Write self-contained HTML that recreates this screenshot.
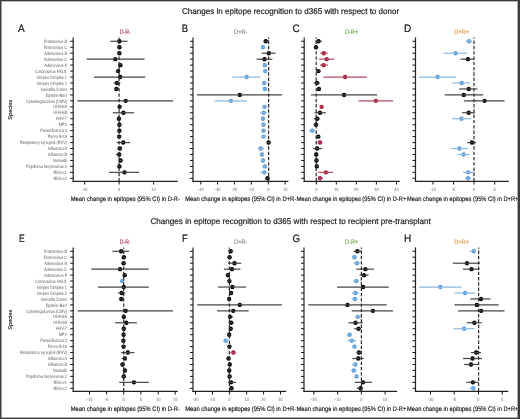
<!DOCTYPE html>
<html><head><meta charset="utf-8"><title>Figure</title>
<style>html,body{margin:0;padding:0;background:#fff;}body{width:520px;height:419px;overflow:hidden;font-family:"Liberation Sans",sans-serif;}svg{display:block;will-change:transform;text-rendering:geometricPrecision;}</style>
</head><body>
<svg width="520" height="419" viewBox="0 0 520 419" font-family="&quot;Liberation Sans&quot;, sans-serif">
<rect x="0" y="0" width="520" height="419" fill="#fff"/>
<text x="182" y="14.2" font-size="8.3" fill="#1a1a1a" stroke="#1a1a1a" stroke-width="0.18" textLength="217.2" lengthAdjust="spacingAndGlyphs">Changes in epitope recognition to d365 with respect to donor</text>
<text x="150.5" y="224.2" font-size="8.3" fill="#1a1a1a" stroke="#1a1a1a" stroke-width="0.18" textLength="280.3" lengthAdjust="spacingAndGlyphs">Changes in epitope recognition to d365 with respect to recipient pre-transplant</text>
<text x="0" y="0" font-size="5.5" fill="#111" stroke="#111" stroke-width="0.12" text-anchor="middle" transform="translate(11.9,109.7) rotate(-90)" textLength="20" lengthAdjust="spacingAndGlyphs">Species</text>
<g transform="translate(67,0) scale(0.82,1)">
<text x="0" y="42.95" font-size="4.7" fill="#5a5a5a" text-anchor="end">Enterovirus B</text>
<text x="0" y="48.91" font-size="4.7" fill="#5a5a5a" text-anchor="end">Enterovirus C</text>
<text x="0" y="54.86" font-size="4.7" fill="#5a5a5a" text-anchor="end">Adenovirus B</text>
<text x="0" y="60.82" font-size="4.7" fill="#5a5a5a" text-anchor="end">Adenovirus C</text>
<text x="0" y="66.78" font-size="4.7" fill="#5a5a5a" text-anchor="end">Adenovirus F</text>
<text x="0" y="72.73" font-size="4.7" fill="#5a5a5a" text-anchor="end">Coronavirus HKU1</text>
<text x="0" y="78.69" font-size="4.7" fill="#5a5a5a" text-anchor="end">Herpes Simplex 1</text>
<text x="0" y="84.65" font-size="4.7" fill="#5a5a5a" text-anchor="end">Herpes Simplex 2</text>
<text x="0" y="90.61" font-size="4.7" fill="#5a5a5a" text-anchor="end">Varicella Zoster</text>
<text x="0" y="96.56" font-size="4.7" fill="#5a5a5a" text-anchor="end">Epstein-Barr</text>
<text x="0" y="102.52" font-size="4.7" fill="#5a5a5a" text-anchor="end">Cytomegalovirus (CMV)</text>
<text x="0" y="108.48" font-size="4.7" fill="#5a5a5a" text-anchor="end">HHV-6A</text>
<text x="0" y="114.43" font-size="4.7" fill="#5a5a5a" text-anchor="end">HHV-6B</text>
<text x="0" y="120.39" font-size="4.7" fill="#5a5a5a" text-anchor="end">HHV-7</text>
<text x="0" y="126.35" font-size="4.7" fill="#5a5a5a" text-anchor="end">MPV</text>
<text x="0" y="132.31" font-size="4.7" fill="#5a5a5a" text-anchor="end">Parainfluenza 3</text>
<text x="0" y="138.26" font-size="4.7" fill="#5a5a5a" text-anchor="end">Parvo B-19</text>
<text x="0" y="144.22" font-size="4.7" fill="#5a5a5a" text-anchor="end">Respiratory syncytial (RSV)</text>
<text x="0" y="150.18" font-size="4.7" fill="#5a5a5a" text-anchor="end">Influenza A</text>
<text x="0" y="156.13" font-size="4.7" fill="#5a5a5a" text-anchor="end">Influenza B</text>
<text x="0" y="162.09" font-size="4.7" fill="#5a5a5a" text-anchor="end">Norwalk</text>
<text x="0" y="168.05" font-size="4.7" fill="#5a5a5a" text-anchor="end">Papilloma herpesvirus 2</text>
<text x="0" y="174" font-size="4.7" fill="#5a5a5a" text-anchor="end">Rhino-1</text>
<text x="0" y="179.96" font-size="4.7" fill="#5a5a5a" text-anchor="end">Rhino-2</text>
</g>
<text x="0" y="0" font-size="5.5" fill="#111" stroke="#111" stroke-width="0.12" text-anchor="middle" transform="translate(11.9,319.7) rotate(-90)" textLength="20" lengthAdjust="spacingAndGlyphs">Species</text>
<g transform="translate(67,0) scale(0.82,1)">
<text x="0" y="252.95" font-size="4.7" fill="#5a5a5a" text-anchor="end">Enterovirus B</text>
<text x="0" y="258.91" font-size="4.7" fill="#5a5a5a" text-anchor="end">Enterovirus C</text>
<text x="0" y="264.86" font-size="4.7" fill="#5a5a5a" text-anchor="end">Adenovirus B</text>
<text x="0" y="270.82" font-size="4.7" fill="#5a5a5a" text-anchor="end">Adenovirus C</text>
<text x="0" y="276.78" font-size="4.7" fill="#5a5a5a" text-anchor="end">Adenovirus F</text>
<text x="0" y="282.74" font-size="4.7" fill="#5a5a5a" text-anchor="end">Coronavirus HKU1</text>
<text x="0" y="288.69" font-size="4.7" fill="#5a5a5a" text-anchor="end">Herpes Simplex 1</text>
<text x="0" y="294.65" font-size="4.7" fill="#5a5a5a" text-anchor="end">Herpes Simplex 2</text>
<text x="0" y="300.61" font-size="4.7" fill="#5a5a5a" text-anchor="end">Varicella Zoster</text>
<text x="0" y="306.56" font-size="4.7" fill="#5a5a5a" text-anchor="end">Epstein-Barr</text>
<text x="0" y="312.52" font-size="4.7" fill="#5a5a5a" text-anchor="end">Cytomegalovirus (CMV)</text>
<text x="0" y="318.48" font-size="4.7" fill="#5a5a5a" text-anchor="end">HHV-6A</text>
<text x="0" y="324.43" font-size="4.7" fill="#5a5a5a" text-anchor="end">HHV-6B</text>
<text x="0" y="330.39" font-size="4.7" fill="#5a5a5a" text-anchor="end">HHV-7</text>
<text x="0" y="336.35" font-size="4.7" fill="#5a5a5a" text-anchor="end">MPV</text>
<text x="0" y="342.31" font-size="4.7" fill="#5a5a5a" text-anchor="end">Parainfluenza 3</text>
<text x="0" y="348.26" font-size="4.7" fill="#5a5a5a" text-anchor="end">Parvo B-19</text>
<text x="0" y="354.22" font-size="4.7" fill="#5a5a5a" text-anchor="end">Respiratory syncytial (RSV)</text>
<text x="0" y="360.18" font-size="4.7" fill="#5a5a5a" text-anchor="end">Influenza A</text>
<text x="0" y="366.13" font-size="4.7" fill="#5a5a5a" text-anchor="end">Influenza B</text>
<text x="0" y="372.09" font-size="4.7" fill="#5a5a5a" text-anchor="end">Norwalk</text>
<text x="0" y="378.05" font-size="4.7" fill="#5a5a5a" text-anchor="end">Papilloma herpesvirus 2</text>
<text x="0" y="384" font-size="4.7" fill="#5a5a5a" text-anchor="end">Rhino-1</text>
<text x="0" y="389.96" font-size="4.7" fill="#5a5a5a" text-anchor="end">Rhino-2</text>
</g>
<line x1="73.2" y1="37.4" x2="73.2" y2="181.9" stroke="#222" stroke-width="1.2"/>
<path d="M70.2 41.3H73.2M70.2 47.26H73.2M70.2 53.21H73.2M70.2 59.17H73.2M70.2 65.13H73.2M70.2 71.08H73.2M70.2 77.04H73.2M70.2 83H73.2M70.2 88.96H73.2M70.2 94.91H73.2M70.2 100.87H73.2M70.2 106.83H73.2M70.2 112.78H73.2M70.2 118.74H73.2M70.2 124.7H73.2M70.2 130.66H73.2M70.2 136.61H73.2M70.2 142.57H73.2M70.2 148.53H73.2M70.2 154.48H73.2M70.2 160.44H73.2M70.2 166.4H73.2M70.2 172.35H73.2M70.2 178.31H73.2" stroke="#111" stroke-width="1"/>
<line x1="72.6" y1="181.3" x2="177.7" y2="181.3" stroke="#222" stroke-width="1.2"/>
<path d="M84.6 181.3V184.5M119.1 181.3V184.5M153.6 181.3V184.5" stroke="#111" stroke-width="1"/>
<text x="0" y="0" font-size="4.6" fill="#707070" text-anchor="middle" transform="translate(84.6,191.3) scale(0.88,1)">-10</text>
<text x="0" y="0" font-size="4.6" fill="#707070" text-anchor="middle" transform="translate(119.1,191.3) scale(0.88,1)">0</text>
<text x="0" y="0" font-size="4.6" fill="#707070" text-anchor="middle" transform="translate(153.6,191.3) scale(0.88,1)">10</text>
<circle cx="119.4" cy="41.3" r="2.2" fill="#000"/>
<line x1="110.3" y1="41.3" x2="127.6" y2="41.3" stroke="#444" stroke-width="1.2"/>
<circle cx="119.4" cy="47.26" r="2.2" fill="#000"/>
<line x1="117.9" y1="47.26" x2="120.9" y2="47.26" stroke="#444" stroke-width="1.2"/>
<circle cx="119.4" cy="53.21" r="2.2" fill="#000"/>
<line x1="117.9" y1="53.21" x2="120.9" y2="53.21" stroke="#444" stroke-width="1.2"/>
<circle cx="115.3" cy="59.17" r="2.2" fill="#000"/>
<line x1="86.6" y1="59.17" x2="144.5" y2="59.17" stroke="#444" stroke-width="1.2"/>
<circle cx="120.4" cy="65.13" r="2.2" fill="#000"/>
<line x1="118.9" y1="65.13" x2="121.9" y2="65.13" stroke="#444" stroke-width="1.2"/>
<circle cx="118.1" cy="71.08" r="2.2" fill="#000"/>
<line x1="116.6" y1="71.08" x2="119.6" y2="71.08" stroke="#444" stroke-width="1.2"/>
<circle cx="120.2" cy="77.04" r="2.2" fill="#000"/>
<line x1="94" y1="77.04" x2="145.2" y2="77.04" stroke="#444" stroke-width="1.2"/>
<circle cx="117" cy="83" r="2.2" fill="#000"/>
<line x1="113.4" y1="83" x2="120.4" y2="83" stroke="#444" stroke-width="1.2"/>
<circle cx="116.4" cy="88.96" r="2.2" fill="#000"/>
<line x1="114" y1="88.96" x2="119" y2="88.96" stroke="#444" stroke-width="1.2"/>
<circle cx="125.7" cy="100.87" r="2.2" fill="#000"/>
<line x1="77.3" y1="100.87" x2="173.1" y2="100.87" stroke="#444" stroke-width="1.2"/>
<circle cx="119.6" cy="106.83" r="2.2" fill="#000"/>
<line x1="118.1" y1="106.83" x2="121.1" y2="106.83" stroke="#444" stroke-width="1.2"/>
<circle cx="123.4" cy="112.78" r="2.2" fill="#000"/>
<line x1="112.8" y1="112.78" x2="134" y2="112.78" stroke="#444" stroke-width="1.2"/>
<circle cx="118.9" cy="118.74" r="2.2" fill="#000"/>
<line x1="117.4" y1="118.74" x2="120.4" y2="118.74" stroke="#444" stroke-width="1.2"/>
<circle cx="119.4" cy="124.7" r="2.2" fill="#000"/>
<line x1="117.9" y1="124.7" x2="120.9" y2="124.7" stroke="#444" stroke-width="1.2"/>
<circle cx="119.4" cy="130.66" r="2.2" fill="#000"/>
<line x1="117.9" y1="130.66" x2="120.9" y2="130.66" stroke="#444" stroke-width="1.2"/>
<circle cx="119.2" cy="136.61" r="2.2" fill="#000"/>
<line x1="117.7" y1="136.61" x2="120.7" y2="136.61" stroke="#444" stroke-width="1.2"/>
<circle cx="123.2" cy="142.57" r="2.2" fill="#000"/>
<line x1="116.6" y1="142.57" x2="130.2" y2="142.57" stroke="#444" stroke-width="1.2"/>
<circle cx="120" cy="148.53" r="2.2" fill="#000"/>
<line x1="117" y1="148.53" x2="122" y2="148.53" stroke="#444" stroke-width="1.2"/>
<circle cx="119.2" cy="154.48" r="2.2" fill="#000"/>
<line x1="115.8" y1="154.48" x2="121" y2="154.48" stroke="#444" stroke-width="1.2"/>
<circle cx="120.6" cy="160.44" r="2.2" fill="#000"/>
<line x1="119.1" y1="160.44" x2="122.1" y2="160.44" stroke="#444" stroke-width="1.2"/>
<circle cx="119.4" cy="166.4" r="2.2" fill="#000"/>
<line x1="117.9" y1="166.4" x2="120.9" y2="166.4" stroke="#444" stroke-width="1.2"/>
<circle cx="124.5" cy="172.35" r="2.2" fill="#000"/>
<line x1="109.1" y1="172.35" x2="139" y2="172.35" stroke="#444" stroke-width="1.2"/>
<line x1="119.1" y1="37.4" x2="119.1" y2="182.3" stroke="#2a2a2a" stroke-width="1.2" stroke-dasharray="3.4 1.89" stroke-dashoffset="2.14"/>
<text x="0" y="0" font-size="10.8" fill="#111" stroke="#111" stroke-width="0.2" transform="translate(18,32) scale(0.93,1)">A</text>
<text x="119.8" y="33.7" font-size="6.5" fill="#a83c55" stroke="#a83c55" stroke-width="0.15" textLength="11" lengthAdjust="spacingAndGlyphs">D-R-</text>
<text x="70.8" y="200.8" font-size="6.6" fill="#111" stroke="#111" stroke-width="0.15" textLength="109.2" lengthAdjust="spacingAndGlyphs">Mean change in epitopes (95% CI) in D-R-</text>
<line x1="193" y1="37.4" x2="193" y2="181.9" stroke="#222" stroke-width="1.2"/>
<path d="M190 41.3H193M190 47.26H193M190 53.21H193M190 59.17H193M190 65.13H193M190 71.08H193M190 77.04H193M190 83H193M190 88.96H193M190 94.91H193M190 100.87H193M190 106.83H193M190 112.78H193M190 118.74H193M190 124.7H193M190 130.66H193M190 136.61H193M190 142.57H193M190 148.53H193M190 154.48H193M190 160.44H193M190 166.4H193M190 172.35H193M190 178.31H193" stroke="#111" stroke-width="1"/>
<line x1="192.4" y1="181.3" x2="288.4" y2="181.3" stroke="#222" stroke-width="1.2"/>
<path d="M200.8 181.3V184.5M217.5 181.3V184.5M234.4 181.3V184.5M251.4 181.3V184.5M268.3 181.3V184.5M285.2 181.3V184.5" stroke="#111" stroke-width="1"/>
<text x="0" y="0" font-size="4.6" fill="#707070" text-anchor="middle" transform="translate(200.8,191.3) scale(0.88,1)">-40</text>
<text x="0" y="0" font-size="4.6" fill="#707070" text-anchor="middle" transform="translate(217.5,191.3) scale(0.88,1)">-30</text>
<text x="0" y="0" font-size="4.6" fill="#707070" text-anchor="middle" transform="translate(234.4,191.3) scale(0.88,1)">-20</text>
<text x="0" y="0" font-size="4.6" fill="#707070" text-anchor="middle" transform="translate(251.4,191.3) scale(0.88,1)">-10</text>
<text x="0" y="0" font-size="4.6" fill="#707070" text-anchor="middle" transform="translate(268.3,191.3) scale(0.88,1)">0</text>
<text x="0" y="0" font-size="4.6" fill="#707070" text-anchor="middle" transform="translate(285.2,191.3) scale(0.88,1)">10</text>
<circle cx="265.8" cy="41.3" r="2.2" fill="#000"/>
<line x1="263.3" y1="41.3" x2="269" y2="41.3" stroke="#444" stroke-width="1.2"/>
<circle cx="263" cy="47.26" r="2.2" fill="#5f9bd5"/>
<line x1="261" y1="47.26" x2="265" y2="47.26" stroke="#8ab8e2" stroke-width="1.2"/>
<circle cx="268.8" cy="53.21" r="2.2" fill="#000"/>
<line x1="261.8" y1="53.21" x2="275.5" y2="53.21" stroke="#444" stroke-width="1.2"/>
<circle cx="264.5" cy="59.17" r="2.2" fill="#000"/>
<line x1="256.5" y1="59.17" x2="272.4" y2="59.17" stroke="#444" stroke-width="1.2"/>
<circle cx="264.8" cy="65.13" r="2.2" fill="#5f9bd5"/>
<line x1="263.3" y1="65.13" x2="266.3" y2="65.13" stroke="#8ab8e2" stroke-width="1.2"/>
<circle cx="265.2" cy="71.08" r="2.2" fill="#5f9bd5"/>
<line x1="263.7" y1="71.08" x2="266.7" y2="71.08" stroke="#8ab8e2" stroke-width="1.2"/>
<circle cx="246.6" cy="77.04" r="2.2" fill="#5f9bd5"/>
<line x1="232.2" y1="77.04" x2="260.5" y2="77.04" stroke="#8ab8e2" stroke-width="1.2"/>
<circle cx="264.1" cy="83" r="2.2" fill="#5f9bd5"/>
<line x1="262" y1="83" x2="267" y2="83" stroke="#8ab8e2" stroke-width="1.2"/>
<circle cx="264.8" cy="88.96" r="2.2" fill="#5f9bd5"/>
<line x1="263.3" y1="88.96" x2="266.3" y2="88.96" stroke="#8ab8e2" stroke-width="1.2"/>
<circle cx="239.8" cy="94.91" r="2.2" fill="#000"/>
<line x1="197" y1="94.91" x2="281.9" y2="94.91" stroke="#444" stroke-width="1.2"/>
<circle cx="230.9" cy="100.87" r="2.2" fill="#5f9bd5"/>
<line x1="214.6" y1="100.87" x2="247" y2="100.87" stroke="#8ab8e2" stroke-width="1.2"/>
<circle cx="264.6" cy="106.83" r="2.2" fill="#5f9bd5"/>
<line x1="262" y1="106.83" x2="267" y2="106.83" stroke="#8ab8e2" stroke-width="1.2"/>
<circle cx="263.7" cy="112.78" r="2.2" fill="#5f9bd5"/>
<line x1="260" y1="112.78" x2="266.7" y2="112.78" stroke="#8ab8e2" stroke-width="1.2"/>
<circle cx="263" cy="118.74" r="2.2" fill="#5f9bd5"/>
<line x1="261.5" y1="118.74" x2="264.5" y2="118.74" stroke="#8ab8e2" stroke-width="1.2"/>
<circle cx="263.5" cy="124.7" r="2.2" fill="#5f9bd5"/>
<line x1="262" y1="124.7" x2="265" y2="124.7" stroke="#8ab8e2" stroke-width="1.2"/>
<circle cx="263.5" cy="130.66" r="2.2" fill="#5f9bd5"/>
<line x1="261" y1="130.66" x2="266" y2="130.66" stroke="#8ab8e2" stroke-width="1.2"/>
<circle cx="263.5" cy="136.61" r="2.2" fill="#5f9bd5"/>
<line x1="262" y1="136.61" x2="265" y2="136.61" stroke="#8ab8e2" stroke-width="1.2"/>
<circle cx="268.6" cy="142.57" r="2.2" fill="#000"/>
<line x1="267.1" y1="142.57" x2="270.1" y2="142.57" stroke="#444" stroke-width="1.2"/>
<circle cx="260.7" cy="148.53" r="2.2" fill="#5f9bd5"/>
<line x1="257.6" y1="148.53" x2="264" y2="148.53" stroke="#8ab8e2" stroke-width="1.2"/>
<circle cx="262" cy="154.48" r="2.2" fill="#5f9bd5"/>
<line x1="260" y1="154.48" x2="264" y2="154.48" stroke="#8ab8e2" stroke-width="1.2"/>
<circle cx="263" cy="160.44" r="2.2" fill="#5f9bd5"/>
<line x1="261.5" y1="160.44" x2="264.5" y2="160.44" stroke="#8ab8e2" stroke-width="1.2"/>
<circle cx="264.8" cy="166.4" r="2.2" fill="#5f9bd5"/>
<line x1="263.3" y1="166.4" x2="266.3" y2="166.4" stroke="#8ab8e2" stroke-width="1.2"/>
<circle cx="264.3" cy="172.35" r="2.2" fill="#5f9bd5"/>
<line x1="260.2" y1="172.35" x2="267.4" y2="172.35" stroke="#8ab8e2" stroke-width="1.2"/>
<circle cx="267.5" cy="178.31" r="2.2" fill="#000"/>
<line x1="266" y1="178.31" x2="269" y2="178.31" stroke="#444" stroke-width="1.2"/>
<line x1="268.6" y1="37.4" x2="268.6" y2="182.3" stroke="#2a2a2a" stroke-width="1.2" stroke-dasharray="3.4 1.89" stroke-dashoffset="2.14"/>
<text x="0" y="0" font-size="10.8" fill="#111" stroke="#111" stroke-width="0.2" transform="translate(181.8,32) scale(0.87,1)">B</text>
<text x="234.1" y="33.7" font-size="6.5" fill="#8c8c8c" stroke="#8c8c8c" stroke-width="0.15" textLength="13.6" lengthAdjust="spacingAndGlyphs">D+R-</text>
<text x="185.2" y="200.8" font-size="6.6" fill="#111" stroke="#111" stroke-width="0.15" textLength="111" lengthAdjust="spacingAndGlyphs">Mean change in epitopes (95% CI) in D+R-</text>
<line x1="304.2" y1="37.4" x2="304.2" y2="181.9" stroke="#222" stroke-width="1.2"/>
<path d="M301.2 41.3H304.2M301.2 47.26H304.2M301.2 53.21H304.2M301.2 59.17H304.2M301.2 65.13H304.2M301.2 71.08H304.2M301.2 77.04H304.2M301.2 83H304.2M301.2 88.96H304.2M301.2 94.91H304.2M301.2 100.87H304.2M301.2 106.83H304.2M301.2 112.78H304.2M301.2 118.74H304.2M301.2 124.7H304.2M301.2 130.66H304.2M301.2 136.61H304.2M301.2 142.57H304.2M301.2 148.53H304.2M301.2 154.48H304.2M301.2 160.44H304.2M301.2 166.4H304.2M301.2 172.35H304.2M301.2 178.31H304.2" stroke="#111" stroke-width="1"/>
<line x1="303.6" y1="181.3" x2="399.8" y2="181.3" stroke="#222" stroke-width="1.2"/>
<path d="M316.3 181.3V184.5M336.3 181.3V184.5M356.3 181.3V184.5M376.4 181.3V184.5M396.5 181.3V184.5" stroke="#111" stroke-width="1"/>
<text x="0" y="0" font-size="4.6" fill="#707070" text-anchor="middle" transform="translate(316.3,191.3) scale(0.88,1)">0</text>
<text x="0" y="0" font-size="4.6" fill="#707070" text-anchor="middle" transform="translate(336.3,191.3) scale(0.88,1)">10</text>
<text x="0" y="0" font-size="4.6" fill="#707070" text-anchor="middle" transform="translate(356.3,191.3) scale(0.88,1)">20</text>
<text x="0" y="0" font-size="4.6" fill="#707070" text-anchor="middle" transform="translate(376.4,191.3) scale(0.88,1)">30</text>
<text x="0" y="0" font-size="4.6" fill="#707070" text-anchor="middle" transform="translate(396.5,191.3) scale(0.88,1)">40</text>
<circle cx="318.5" cy="41.3" r="2.2" fill="#000"/>
<line x1="315.3" y1="41.3" x2="321.9" y2="41.3" stroke="#444" stroke-width="1.2"/>
<circle cx="316" cy="47.26" r="2.2" fill="#000"/>
<line x1="314.5" y1="47.26" x2="317.5" y2="47.26" stroke="#444" stroke-width="1.2"/>
<circle cx="323.8" cy="53.21" r="2.2" fill="#a3203c"/>
<line x1="320.2" y1="53.21" x2="327.8" y2="53.21" stroke="#b8475e" stroke-width="1.2"/>
<circle cx="326.7" cy="59.17" r="2.2" fill="#a3203c"/>
<line x1="319.1" y1="59.17" x2="334.3" y2="59.17" stroke="#b8475e" stroke-width="1.2"/>
<circle cx="323.6" cy="65.13" r="2.2" fill="#a3203c"/>
<line x1="320" y1="65.13" x2="328" y2="65.13" stroke="#b8475e" stroke-width="1.2"/>
<circle cx="318.3" cy="71.08" r="2.2" fill="#000"/>
<line x1="316" y1="71.08" x2="321" y2="71.08" stroke="#444" stroke-width="1.2"/>
<circle cx="345.1" cy="77.04" r="2.2" fill="#a3203c"/>
<line x1="323.3" y1="77.04" x2="366.9" y2="77.04" stroke="#b8475e" stroke-width="1.2"/>
<circle cx="317" cy="83" r="2.2" fill="#000"/>
<line x1="313.6" y1="83" x2="320" y2="83" stroke="#444" stroke-width="1.2"/>
<circle cx="318.9" cy="88.96" r="2.2" fill="#000"/>
<line x1="317.4" y1="88.96" x2="320.4" y2="88.96" stroke="#444" stroke-width="1.2"/>
<circle cx="344.1" cy="94.91" r="2.2" fill="#000"/>
<line x1="311.1" y1="94.91" x2="377.1" y2="94.91" stroke="#444" stroke-width="1.2"/>
<circle cx="375.8" cy="100.87" r="2.2" fill="#a3203c"/>
<line x1="358.5" y1="100.87" x2="393" y2="100.87" stroke="#b8475e" stroke-width="1.2"/>
<circle cx="321.6" cy="106.83" r="2.2" fill="#a3203c"/>
<line x1="320.1" y1="106.83" x2="323.1" y2="106.83" stroke="#b8475e" stroke-width="1.2"/>
<circle cx="320" cy="112.78" r="2.2" fill="#000"/>
<line x1="314.5" y1="112.78" x2="325.9" y2="112.78" stroke="#444" stroke-width="1.2"/>
<circle cx="317.2" cy="118.74" r="2.2" fill="#000"/>
<line x1="314" y1="118.74" x2="320" y2="118.74" stroke="#444" stroke-width="1.2"/>
<circle cx="316" cy="124.7" r="2.2" fill="#000"/>
<line x1="313.5" y1="124.7" x2="318" y2="124.7" stroke="#444" stroke-width="1.2"/>
<circle cx="312.3" cy="130.66" r="2.2" fill="#5f9bd5"/>
<line x1="308.8" y1="130.66" x2="315.3" y2="130.66" stroke="#8ab8e2" stroke-width="1.2"/>
<circle cx="318.3" cy="136.61" r="2.2" fill="#000"/>
<line x1="316.8" y1="136.61" x2="319.8" y2="136.61" stroke="#444" stroke-width="1.2"/>
<circle cx="320" cy="142.57" r="2.2" fill="#a3203c"/>
<line x1="317.5" y1="142.57" x2="322.5" y2="142.57" stroke="#b8475e" stroke-width="1.2"/>
<circle cx="317.2" cy="148.53" r="2.2" fill="#000"/>
<line x1="313" y1="148.53" x2="322.1" y2="148.53" stroke="#444" stroke-width="1.2"/>
<circle cx="316.2" cy="154.48" r="2.2" fill="#000"/>
<line x1="314.7" y1="154.48" x2="317.7" y2="154.48" stroke="#444" stroke-width="1.2"/>
<circle cx="316.5" cy="160.44" r="2.2" fill="#000"/>
<line x1="315" y1="160.44" x2="318" y2="160.44" stroke="#444" stroke-width="1.2"/>
<circle cx="316.8" cy="166.4" r="2.2" fill="#000"/>
<line x1="315.3" y1="166.4" x2="318.3" y2="166.4" stroke="#444" stroke-width="1.2"/>
<circle cx="325.9" cy="172.35" r="2.2" fill="#a3203c"/>
<line x1="318.3" y1="172.35" x2="333.1" y2="172.35" stroke="#b8475e" stroke-width="1.2"/>
<circle cx="320" cy="178.31" r="2.2" fill="#a3203c"/>
<line x1="318" y1="178.31" x2="323" y2="178.31" stroke="#b8475e" stroke-width="1.2"/>
<line x1="316.2" y1="37.4" x2="316.2" y2="182.3" stroke="#2a2a2a" stroke-width="1.2" stroke-dasharray="3.4 1.89" stroke-dashoffset="2.14"/>
<text x="0" y="0" font-size="10.8" fill="#111" stroke="#111" stroke-width="0.2" transform="translate(292.5,32) scale(0.93,1)">C</text>
<text x="345" y="33.7" font-size="6.5" fill="#6aaa4a" stroke="#6aaa4a" stroke-width="0.15" textLength="12.9" lengthAdjust="spacingAndGlyphs">D-R+</text>
<text x="296.5" y="200.8" font-size="6.6" fill="#111" stroke="#111" stroke-width="0.15" textLength="109.8" lengthAdjust="spacingAndGlyphs">Mean change in epitopes (95% CI) in D-R+</text>
<line x1="415.5" y1="37.4" x2="415.5" y2="181.9" stroke="#222" stroke-width="1.2"/>
<path d="M412.5 41.3H415.5M412.5 47.26H415.5M412.5 53.21H415.5M412.5 59.17H415.5M412.5 65.13H415.5M412.5 71.08H415.5M412.5 77.04H415.5M412.5 83H415.5M412.5 88.96H415.5M412.5 94.91H415.5M412.5 100.87H415.5M412.5 106.83H415.5M412.5 112.78H415.5M412.5 118.74H415.5M412.5 124.7H415.5M412.5 130.66H415.5M412.5 136.61H415.5M412.5 142.57H415.5M412.5 148.53H415.5M412.5 154.48H415.5M412.5 160.44H415.5M412.5 166.4H415.5M412.5 172.35H415.5M412.5 178.31H415.5" stroke="#111" stroke-width="1"/>
<line x1="414.9" y1="181.3" x2="508.8" y2="181.3" stroke="#222" stroke-width="1.2"/>
<path d="M433 181.3V184.5M453.5 181.3V184.5M474 181.3V184.5M494.7 181.3V184.5" stroke="#111" stroke-width="1"/>
<text x="0" y="0" font-size="4.6" fill="#707070" text-anchor="middle" transform="translate(433,191.3) scale(0.88,1)">-10</text>
<text x="0" y="0" font-size="4.6" fill="#707070" text-anchor="middle" transform="translate(453.5,191.3) scale(0.88,1)">-5</text>
<text x="0" y="0" font-size="4.6" fill="#707070" text-anchor="middle" transform="translate(474,191.3) scale(0.88,1)">0</text>
<text x="0" y="0" font-size="4.6" fill="#707070" text-anchor="middle" transform="translate(494.7,191.3) scale(0.88,1)">5</text>
<circle cx="469.1" cy="41.3" r="2.2" fill="#5f9bd5"/>
<line x1="465.4" y1="41.3" x2="472.3" y2="41.3" stroke="#8ab8e2" stroke-width="1.2"/>
<circle cx="455.6" cy="53.21" r="2.2" fill="#5f9bd5"/>
<line x1="443.5" y1="53.21" x2="467.2" y2="53.21" stroke="#8ab8e2" stroke-width="1.2"/>
<circle cx="467.9" cy="59.17" r="2.2" fill="#000"/>
<line x1="460.5" y1="59.17" x2="474.2" y2="59.17" stroke="#444" stroke-width="1.2"/>
<circle cx="437.6" cy="77.04" r="2.2" fill="#5f9bd5"/>
<line x1="419.2" y1="77.04" x2="456" y2="77.04" stroke="#8ab8e2" stroke-width="1.2"/>
<circle cx="461.7" cy="83" r="2.2" fill="#5f9bd5"/>
<line x1="452.2" y1="83" x2="470" y2="83" stroke="#8ab8e2" stroke-width="1.2"/>
<circle cx="468.7" cy="88.96" r="2.2" fill="#000"/>
<line x1="459.2" y1="88.96" x2="477.4" y2="88.96" stroke="#444" stroke-width="1.2"/>
<circle cx="463.8" cy="94.91" r="2.2" fill="#000"/>
<line x1="444.8" y1="94.91" x2="483.1" y2="94.91" stroke="#444" stroke-width="1.2"/>
<circle cx="484.6" cy="100.87" r="2.2" fill="#000"/>
<line x1="464" y1="100.87" x2="504.5" y2="100.87" stroke="#444" stroke-width="1.2"/>
<circle cx="468.7" cy="112.78" r="2.2" fill="#000"/>
<line x1="462" y1="112.78" x2="474.8" y2="112.78" stroke="#444" stroke-width="1.2"/>
<circle cx="461.5" cy="118.74" r="2.2" fill="#5f9bd5"/>
<line x1="452" y1="118.74" x2="470.8" y2="118.74" stroke="#8ab8e2" stroke-width="1.2"/>
<circle cx="471.9" cy="142.57" r="2.2" fill="#000"/>
<line x1="467.2" y1="142.57" x2="476.1" y2="142.57" stroke="#444" stroke-width="1.2"/>
<circle cx="459.4" cy="148.53" r="2.2" fill="#5f9bd5"/>
<line x1="451" y1="148.53" x2="467.9" y2="148.53" stroke="#8ab8e2" stroke-width="1.2"/>
<circle cx="463.6" cy="154.48" r="2.2" fill="#5f9bd5"/>
<line x1="457.1" y1="154.48" x2="469.8" y2="154.48" stroke="#8ab8e2" stroke-width="1.2"/>
<circle cx="468.3" cy="172.35" r="2.2" fill="#5f9bd5"/>
<line x1="463" y1="172.35" x2="474.6" y2="172.35" stroke="#8ab8e2" stroke-width="1.2"/>
<circle cx="468.1" cy="178.31" r="2.2" fill="#5f9bd5"/>
<line x1="465" y1="178.31" x2="471" y2="178.31" stroke="#8ab8e2" stroke-width="1.2"/>
<line x1="474" y1="37.4" x2="474" y2="182.3" stroke="#2a2a2a" stroke-width="1.2" stroke-dasharray="3.4 1.89" stroke-dashoffset="2.14"/>
<text x="0" y="0" font-size="10.8" fill="#111" stroke="#111" stroke-width="0.2" transform="translate(403.9,32) scale(0.93,1)">D</text>
<text x="454.2" y="33.7" font-size="6.5" fill="#e0a050" stroke="#e0a050" stroke-width="0.15" textLength="14.8" lengthAdjust="spacingAndGlyphs">D+R+</text>
<text x="407" y="200.8" font-size="6.6" fill="#111" stroke="#111" stroke-width="0.15" textLength="111.5" lengthAdjust="spacingAndGlyphs">Mean change in epitopes (95% CI) in D+R+</text>
<line x1="73.2" y1="247.4" x2="73.2" y2="391.9" stroke="#222" stroke-width="1.2"/>
<path d="M70.2 251.3H73.2M70.2 257.26H73.2M70.2 263.21H73.2M70.2 269.17H73.2M70.2 275.13H73.2M70.2 281.09H73.2M70.2 287.04H73.2M70.2 293H73.2M70.2 298.96H73.2M70.2 304.91H73.2M70.2 310.87H73.2M70.2 316.83H73.2M70.2 322.78H73.2M70.2 328.74H73.2M70.2 334.7H73.2M70.2 340.66H73.2M70.2 346.61H73.2M70.2 352.57H73.2M70.2 358.53H73.2M70.2 364.48H73.2M70.2 370.44H73.2M70.2 376.4H73.2M70.2 382.35H73.2M70.2 388.31H73.2" stroke="#111" stroke-width="1"/>
<line x1="72.6" y1="391.3" x2="177.7" y2="391.3" stroke="#222" stroke-width="1.2"/>
<path d="M89.5 391.3V394.5M106.6 391.3V394.5M123.7 391.3V394.5M140.9 391.3V394.5M158.2 391.3V394.5M175.2 391.3V394.5" stroke="#111" stroke-width="1"/>
<text x="0" y="0" font-size="4.6" fill="#707070" text-anchor="middle" transform="translate(89.5,401.3) scale(0.88,1)">-10</text>
<text x="0" y="0" font-size="4.6" fill="#707070" text-anchor="middle" transform="translate(106.6,401.3) scale(0.88,1)">-5</text>
<text x="0" y="0" font-size="4.6" fill="#707070" text-anchor="middle" transform="translate(123.7,401.3) scale(0.88,1)">0</text>
<text x="0" y="0" font-size="4.6" fill="#707070" text-anchor="middle" transform="translate(140.9,401.3) scale(0.88,1)">5</text>
<text x="0" y="0" font-size="4.6" fill="#707070" text-anchor="middle" transform="translate(158.2,401.3) scale(0.88,1)">10</text>
<text x="0" y="0" font-size="4.6" fill="#707070" text-anchor="middle" transform="translate(175.2,401.3) scale(0.88,1)">15</text>
<circle cx="121.1" cy="251.3" r="2.2" fill="#000"/>
<line x1="112.4" y1="251.3" x2="129.1" y2="251.3" stroke="#444" stroke-width="1.2"/>
<circle cx="123.8" cy="257.26" r="2.2" fill="#000"/>
<line x1="122.3" y1="257.26" x2="125.3" y2="257.26" stroke="#444" stroke-width="1.2"/>
<circle cx="123.6" cy="263.21" r="2.2" fill="#000"/>
<line x1="122.1" y1="263.21" x2="125.1" y2="263.21" stroke="#444" stroke-width="1.2"/>
<circle cx="120" cy="269.17" r="2.2" fill="#000"/>
<line x1="91.2" y1="269.17" x2="148.8" y2="269.17" stroke="#444" stroke-width="1.2"/>
<circle cx="124.7" cy="275.13" r="2.2" fill="#000"/>
<line x1="123.2" y1="275.13" x2="126.2" y2="275.13" stroke="#444" stroke-width="1.2"/>
<circle cx="122.1" cy="281.09" r="2.2" fill="#5f9bd5"/>
<line x1="120.6" y1="281.09" x2="123.6" y2="281.09" stroke="#8ab8e2" stroke-width="1.2"/>
<circle cx="123.8" cy="287.04" r="2.2" fill="#000"/>
<line x1="98" y1="287.04" x2="148.8" y2="287.04" stroke="#444" stroke-width="1.2"/>
<circle cx="121.7" cy="293" r="2.2" fill="#000"/>
<line x1="117.9" y1="293" x2="125.3" y2="293" stroke="#444" stroke-width="1.2"/>
<circle cx="121.3" cy="298.96" r="2.2" fill="#000"/>
<line x1="119" y1="298.96" x2="124" y2="298.96" stroke="#444" stroke-width="1.2"/>
<circle cx="125.7" cy="310.87" r="2.2" fill="#000"/>
<line x1="77.7" y1="310.87" x2="172.9" y2="310.87" stroke="#444" stroke-width="1.2"/>
<circle cx="123.8" cy="316.83" r="2.2" fill="#000"/>
<line x1="122.3" y1="316.83" x2="125.3" y2="316.83" stroke="#444" stroke-width="1.2"/>
<circle cx="126.3" cy="322.78" r="2.2" fill="#000"/>
<line x1="115.1" y1="322.78" x2="136.9" y2="322.78" stroke="#444" stroke-width="1.2"/>
<circle cx="123.8" cy="328.74" r="2.2" fill="#000"/>
<line x1="122.3" y1="328.74" x2="125.3" y2="328.74" stroke="#444" stroke-width="1.2"/>
<circle cx="123.6" cy="334.7" r="2.2" fill="#000"/>
<line x1="122.1" y1="334.7" x2="125.1" y2="334.7" stroke="#444" stroke-width="1.2"/>
<circle cx="123.4" cy="340.66" r="2.2" fill="#000"/>
<line x1="121.9" y1="340.66" x2="124.9" y2="340.66" stroke="#444" stroke-width="1.2"/>
<circle cx="123.6" cy="346.61" r="2.2" fill="#000"/>
<line x1="122.1" y1="346.61" x2="125.1" y2="346.61" stroke="#444" stroke-width="1.2"/>
<circle cx="127.8" cy="352.57" r="2.2" fill="#000"/>
<line x1="121.1" y1="352.57" x2="134.4" y2="352.57" stroke="#444" stroke-width="1.2"/>
<circle cx="124.9" cy="358.53" r="2.2" fill="#000"/>
<line x1="121.5" y1="358.53" x2="127" y2="358.53" stroke="#444" stroke-width="1.2"/>
<circle cx="122.5" cy="364.48" r="2.2" fill="#000"/>
<line x1="120" y1="364.48" x2="125" y2="364.48" stroke="#444" stroke-width="1.2"/>
<circle cx="124.9" cy="370.44" r="2.2" fill="#000"/>
<line x1="123.4" y1="370.44" x2="126.4" y2="370.44" stroke="#444" stroke-width="1.2"/>
<circle cx="123.8" cy="376.4" r="2.2" fill="#000"/>
<line x1="122.3" y1="376.4" x2="125.3" y2="376.4" stroke="#444" stroke-width="1.2"/>
<circle cx="133.9" cy="382.35" r="2.2" fill="#000"/>
<line x1="119.2" y1="382.35" x2="148.8" y2="382.35" stroke="#444" stroke-width="1.2"/>
<line x1="123.7" y1="247.4" x2="123.7" y2="392.3" stroke="#2a2a2a" stroke-width="1.2" stroke-dasharray="3.4 1.89" stroke-dashoffset="2.14"/>
<text x="0" y="0" font-size="10.8" fill="#111" stroke="#111" stroke-width="0.2" transform="translate(18.9,242) scale(0.8,1)">E</text>
<text x="119.8" y="243.7" font-size="6.5" fill="#a83c55" stroke="#a83c55" stroke-width="0.15" textLength="11" lengthAdjust="spacingAndGlyphs">D-R-</text>
<text x="70.8" y="410.8" font-size="6.6" fill="#111" stroke="#111" stroke-width="0.15" textLength="109.2" lengthAdjust="spacingAndGlyphs">Mean change in epitopes (95% CI) in D-R-</text>
<line x1="193" y1="247.4" x2="193" y2="391.9" stroke="#222" stroke-width="1.2"/>
<path d="M190 251.3H193M190 257.26H193M190 263.21H193M190 269.17H193M190 275.13H193M190 281.09H193M190 287.04H193M190 293H193M190 298.96H193M190 304.91H193M190 310.87H193M190 316.83H193M190 322.78H193M190 328.74H193M190 334.7H193M190 340.66H193M190 346.61H193M190 352.57H193M190 358.53H193M190 364.48H193M190 370.44H193M190 376.4H193M190 382.35H193M190 388.31H193" stroke="#111" stroke-width="1"/>
<line x1="192.4" y1="391.3" x2="286.2" y2="391.3" stroke="#222" stroke-width="1.2"/>
<path d="M195.5 391.3V394.5M212.4 391.3V394.5M229.4 391.3V394.5M246.7 391.3V394.5M263.6 391.3V394.5M280.6 391.3V394.5" stroke="#111" stroke-width="1"/>
<text x="0" y="0" font-size="4.6" fill="#707070" text-anchor="middle" transform="translate(195.5,401.3) scale(0.88,1)">-20</text>
<text x="0" y="0" font-size="4.6" fill="#707070" text-anchor="middle" transform="translate(212.4,401.3) scale(0.88,1)">-10</text>
<text x="0" y="0" font-size="4.6" fill="#707070" text-anchor="middle" transform="translate(229.4,401.3) scale(0.88,1)">0</text>
<text x="0" y="0" font-size="4.6" fill="#707070" text-anchor="middle" transform="translate(246.7,401.3) scale(0.88,1)">10</text>
<text x="0" y="0" font-size="4.6" fill="#707070" text-anchor="middle" transform="translate(263.6,401.3) scale(0.88,1)">20</text>
<text x="0" y="0" font-size="4.6" fill="#707070" text-anchor="middle" transform="translate(280.6,401.3) scale(0.88,1)">30</text>
<circle cx="230.7" cy="251.3" r="2.2" fill="#000"/>
<line x1="228.4" y1="251.3" x2="233.2" y2="251.3" stroke="#444" stroke-width="1.2"/>
<circle cx="229.6" cy="257.26" r="2.2" fill="#000"/>
<line x1="228.1" y1="257.26" x2="231.1" y2="257.26" stroke="#444" stroke-width="1.2"/>
<circle cx="234.5" cy="263.21" r="2.2" fill="#000"/>
<line x1="228" y1="263.21" x2="241.3" y2="263.21" stroke="#444" stroke-width="1.2"/>
<circle cx="232" cy="269.17" r="2.2" fill="#000"/>
<line x1="223.9" y1="269.17" x2="240.4" y2="269.17" stroke="#444" stroke-width="1.2"/>
<circle cx="227.9" cy="275.13" r="2.2" fill="#000"/>
<line x1="226.4" y1="275.13" x2="229.4" y2="275.13" stroke="#444" stroke-width="1.2"/>
<circle cx="229.4" cy="281.09" r="2.2" fill="#000"/>
<line x1="227.9" y1="281.09" x2="230.9" y2="281.09" stroke="#444" stroke-width="1.2"/>
<circle cx="232.4" cy="287.04" r="2.2" fill="#000"/>
<line x1="218" y1="287.04" x2="246.1" y2="287.04" stroke="#444" stroke-width="1.2"/>
<circle cx="231.1" cy="293" r="2.2" fill="#000"/>
<line x1="229.6" y1="293" x2="232.6" y2="293" stroke="#444" stroke-width="1.2"/>
<circle cx="229.2" cy="298.96" r="2.2" fill="#000"/>
<line x1="227.7" y1="298.96" x2="230.7" y2="298.96" stroke="#444" stroke-width="1.2"/>
<circle cx="239.8" cy="304.91" r="2.2" fill="#000"/>
<line x1="197.3" y1="304.91" x2="281.9" y2="304.91" stroke="#444" stroke-width="1.2"/>
<circle cx="233.2" cy="310.87" r="2.2" fill="#000"/>
<line x1="217" y1="310.87" x2="248.7" y2="310.87" stroke="#444" stroke-width="1.2"/>
<circle cx="230" cy="316.83" r="2.2" fill="#000"/>
<line x1="228" y1="316.83" x2="233" y2="316.83" stroke="#444" stroke-width="1.2"/>
<circle cx="231.1" cy="322.78" r="2.2" fill="#000"/>
<line x1="228.4" y1="322.78" x2="234.1" y2="322.78" stroke="#444" stroke-width="1.2"/>
<circle cx="230.7" cy="328.74" r="2.2" fill="#000"/>
<line x1="229.2" y1="328.74" x2="232.2" y2="328.74" stroke="#444" stroke-width="1.2"/>
<circle cx="229.2" cy="334.7" r="2.2" fill="#000"/>
<line x1="227" y1="334.7" x2="231" y2="334.7" stroke="#444" stroke-width="1.2"/>
<circle cx="225.8" cy="340.66" r="2.2" fill="#5f9bd5"/>
<line x1="223" y1="340.66" x2="228.4" y2="340.66" stroke="#8ab8e2" stroke-width="1.2"/>
<circle cx="229.4" cy="346.61" r="2.2" fill="#000"/>
<line x1="227.9" y1="346.61" x2="230.9" y2="346.61" stroke="#444" stroke-width="1.2"/>
<circle cx="233.4" cy="352.57" r="2.2" fill="#a3203c"/>
<line x1="230.5" y1="352.57" x2="236" y2="352.57" stroke="#b8475e" stroke-width="1.2"/>
<circle cx="228.6" cy="358.53" r="2.2" fill="#000"/>
<line x1="226" y1="358.53" x2="231" y2="358.53" stroke="#444" stroke-width="1.2"/>
<circle cx="229.8" cy="364.48" r="2.2" fill="#000"/>
<line x1="228.3" y1="364.48" x2="231.3" y2="364.48" stroke="#444" stroke-width="1.2"/>
<circle cx="229.2" cy="370.44" r="2.2" fill="#000"/>
<line x1="227.7" y1="370.44" x2="230.7" y2="370.44" stroke="#444" stroke-width="1.2"/>
<circle cx="229.6" cy="376.4" r="2.2" fill="#000"/>
<line x1="228.1" y1="376.4" x2="231.1" y2="376.4" stroke="#444" stroke-width="1.2"/>
<circle cx="231.1" cy="382.35" r="2.2" fill="#000"/>
<line x1="228" y1="382.35" x2="236" y2="382.35" stroke="#444" stroke-width="1.2"/>
<circle cx="231.5" cy="388.31" r="2.2" fill="#000"/>
<line x1="230" y1="388.31" x2="233" y2="388.31" stroke="#444" stroke-width="1.2"/>
<line x1="229.4" y1="247.4" x2="229.4" y2="392.3" stroke="#2a2a2a" stroke-width="1.2" stroke-dasharray="3.4 1.89" stroke-dashoffset="2.14"/>
<text x="0" y="0" font-size="10.8" fill="#111" stroke="#111" stroke-width="0.2" transform="translate(182.1,242) scale(0.85,1)">F</text>
<text x="234.1" y="243.7" font-size="6.5" fill="#8c8c8c" stroke="#8c8c8c" stroke-width="0.15" textLength="13.6" lengthAdjust="spacingAndGlyphs">D+R-</text>
<text x="185.2" y="410.8" font-size="6.6" fill="#111" stroke="#111" stroke-width="0.15" textLength="111" lengthAdjust="spacingAndGlyphs">Mean change in epitopes (95% CI) in D+R-</text>
<line x1="304" y1="247.4" x2="304" y2="391.9" stroke="#222" stroke-width="1.2"/>
<path d="M301 251.3H304M301 257.26H304M301 263.21H304M301 269.17H304M301 275.13H304M301 281.09H304M301 287.04H304M301 293H304M301 298.96H304M301 304.91H304M301 310.87H304M301 316.83H304M301 322.78H304M301 328.74H304M301 334.7H304M301 340.66H304M301 346.61H304M301 352.57H304M301 358.53H304M301 364.48H304M301 370.44H304M301 376.4H304M301 382.35H304M301 388.31H304" stroke="#111" stroke-width="1"/>
<line x1="303.4" y1="391.3" x2="397.1" y2="391.3" stroke="#222" stroke-width="1.2"/>
<path d="M313.9 391.3V394.5M337.7 391.3V394.5M361.4 391.3V394.5M385.1 391.3V394.5" stroke="#111" stroke-width="1"/>
<text x="0" y="0" font-size="4.6" fill="#707070" text-anchor="middle" transform="translate(313.9,401.3) scale(0.88,1)">-20</text>
<text x="0" y="0" font-size="4.6" fill="#707070" text-anchor="middle" transform="translate(337.7,401.3) scale(0.88,1)">-10</text>
<text x="0" y="0" font-size="4.6" fill="#707070" text-anchor="middle" transform="translate(361.4,401.3) scale(0.88,1)">0</text>
<text x="0" y="0" font-size="4.6" fill="#707070" text-anchor="middle" transform="translate(385.1,401.3) scale(0.88,1)">10</text>
<circle cx="357.4" cy="251.3" r="2.2" fill="#000"/>
<line x1="353.6" y1="251.3" x2="361.4" y2="251.3" stroke="#444" stroke-width="1.2"/>
<circle cx="354.4" cy="257.26" r="2.2" fill="#5f9bd5"/>
<line x1="352" y1="257.26" x2="357" y2="257.26" stroke="#8ab8e2" stroke-width="1.2"/>
<circle cx="357" cy="263.21" r="2.2" fill="#5f9bd5"/>
<line x1="353.6" y1="263.21" x2="359.7" y2="263.21" stroke="#8ab8e2" stroke-width="1.2"/>
<circle cx="365.4" cy="269.17" r="2.2" fill="#000"/>
<line x1="356.3" y1="269.17" x2="373.9" y2="269.17" stroke="#444" stroke-width="1.2"/>
<circle cx="364" cy="275.13" r="2.2" fill="#000"/>
<line x1="359.5" y1="275.13" x2="368.6" y2="275.13" stroke="#444" stroke-width="1.2"/>
<circle cx="356.3" cy="281.09" r="2.2" fill="#5f9bd5"/>
<line x1="353" y1="281.09" x2="359" y2="281.09" stroke="#8ab8e2" stroke-width="1.2"/>
<circle cx="363.1" cy="287.04" r="2.2" fill="#000"/>
<line x1="337.1" y1="287.04" x2="388.7" y2="287.04" stroke="#444" stroke-width="1.2"/>
<circle cx="355.5" cy="293" r="2.2" fill="#5f9bd5"/>
<line x1="352" y1="293" x2="359" y2="293" stroke="#8ab8e2" stroke-width="1.2"/>
<circle cx="354.9" cy="298.96" r="2.2" fill="#5f9bd5"/>
<line x1="352" y1="298.96" x2="358" y2="298.96" stroke="#8ab8e2" stroke-width="1.2"/>
<circle cx="347.5" cy="304.91" r="2.2" fill="#000"/>
<line x1="308.3" y1="304.91" x2="386.6" y2="304.91" stroke="#444" stroke-width="1.2"/>
<circle cx="372.9" cy="310.87" r="2.2" fill="#000"/>
<line x1="351.7" y1="310.87" x2="393" y2="310.87" stroke="#444" stroke-width="1.2"/>
<circle cx="357.8" cy="316.83" r="2.2" fill="#5f9bd5"/>
<line x1="355" y1="316.83" x2="361" y2="316.83" stroke="#8ab8e2" stroke-width="1.2"/>
<circle cx="355.5" cy="322.78" r="2.2" fill="#000"/>
<line x1="348.5" y1="322.78" x2="362.7" y2="322.78" stroke="#444" stroke-width="1.2"/>
<circle cx="358.5" cy="328.74" r="2.2" fill="#000"/>
<line x1="354.2" y1="328.74" x2="361" y2="328.74" stroke="#444" stroke-width="1.2"/>
<circle cx="349.6" cy="334.7" r="2.2" fill="#5f9bd5"/>
<line x1="346.4" y1="334.7" x2="352.1" y2="334.7" stroke="#8ab8e2" stroke-width="1.2"/>
<circle cx="351.7" cy="340.66" r="2.2" fill="#5f9bd5"/>
<line x1="347.5" y1="340.66" x2="356.3" y2="340.66" stroke="#8ab8e2" stroke-width="1.2"/>
<circle cx="354.4" cy="346.61" r="2.2" fill="#5f9bd5"/>
<line x1="352" y1="346.61" x2="357" y2="346.61" stroke="#8ab8e2" stroke-width="1.2"/>
<circle cx="358.9" cy="352.57" r="2.2" fill="#000"/>
<line x1="356.5" y1="352.57" x2="362" y2="352.57" stroke="#444" stroke-width="1.2"/>
<circle cx="358.3" cy="358.53" r="2.2" fill="#000"/>
<line x1="352.5" y1="358.53" x2="363.8" y2="358.53" stroke="#444" stroke-width="1.2"/>
<circle cx="355.3" cy="364.48" r="2.2" fill="#5f9bd5"/>
<line x1="352" y1="364.48" x2="358" y2="364.48" stroke="#8ab8e2" stroke-width="1.2"/>
<circle cx="353.8" cy="370.44" r="2.2" fill="#5f9bd5"/>
<line x1="351" y1="370.44" x2="357" y2="370.44" stroke="#8ab8e2" stroke-width="1.2"/>
<circle cx="356.6" cy="376.4" r="2.2" fill="#5f9bd5"/>
<line x1="354" y1="376.4" x2="359" y2="376.4" stroke="#8ab8e2" stroke-width="1.2"/>
<circle cx="363.1" cy="382.35" r="2.2" fill="#000"/>
<line x1="354.7" y1="382.35" x2="372" y2="382.35" stroke="#444" stroke-width="1.2"/>
<circle cx="360.6" cy="388.31" r="2.2" fill="#000"/>
<line x1="356.8" y1="388.31" x2="363.1" y2="388.31" stroke="#444" stroke-width="1.2"/>
<line x1="361.4" y1="247.4" x2="361.4" y2="392.3" stroke="#2a2a2a" stroke-width="1.2" stroke-dasharray="3.4 1.89" stroke-dashoffset="2.14"/>
<text x="0" y="0" font-size="10.8" fill="#111" stroke="#111" stroke-width="0.2" transform="translate(292.5,242) scale(0.9,1)">G</text>
<text x="345" y="243.7" font-size="6.5" fill="#6aaa4a" stroke="#6aaa4a" stroke-width="0.15" textLength="13.2" lengthAdjust="spacingAndGlyphs">D-R+</text>
<text x="296.5" y="410.8" font-size="6.6" fill="#111" stroke="#111" stroke-width="0.15" textLength="109.8" lengthAdjust="spacingAndGlyphs">Mean change in epitopes (95% CI) in D-R+</text>
<line x1="415.5" y1="247.4" x2="415.5" y2="391.9" stroke="#222" stroke-width="1.2"/>
<path d="M412.5 251.3H415.5M412.5 257.26H415.5M412.5 263.21H415.5M412.5 269.17H415.5M412.5 275.13H415.5M412.5 281.09H415.5M412.5 287.04H415.5M412.5 293H415.5M412.5 298.96H415.5M412.5 304.91H415.5M412.5 310.87H415.5M412.5 316.83H415.5M412.5 322.78H415.5M412.5 328.74H415.5M412.5 334.7H415.5M412.5 340.66H415.5M412.5 346.61H415.5M412.5 352.57H415.5M412.5 358.53H415.5M412.5 364.48H415.5M412.5 370.44H415.5M412.5 376.4H415.5M412.5 382.35H415.5M412.5 388.31H415.5" stroke="#111" stroke-width="1"/>
<line x1="414.9" y1="391.3" x2="508.2" y2="391.3" stroke="#222" stroke-width="1.2"/>
<path d="M430.5 391.3V394.5M454.2 391.3V394.5M478.5 391.3V394.5M502.2 391.3V394.5" stroke="#111" stroke-width="1"/>
<text x="0" y="0" font-size="4.6" fill="#707070" text-anchor="middle" transform="translate(430.5,401.3) scale(0.88,1)">-10</text>
<text x="0" y="0" font-size="4.6" fill="#707070" text-anchor="middle" transform="translate(454.2,401.3) scale(0.88,1)">-5</text>
<text x="0" y="0" font-size="4.6" fill="#707070" text-anchor="middle" transform="translate(478.5,401.3) scale(0.88,1)">0</text>
<text x="0" y="0" font-size="4.6" fill="#707070" text-anchor="middle" transform="translate(502.2,401.3) scale(0.88,1)">5</text>
<circle cx="473.8" cy="251.3" r="2.2" fill="#5f9bd5"/>
<line x1="469.8" y1="251.3" x2="476.1" y2="251.3" stroke="#8ab8e2" stroke-width="1.2"/>
<circle cx="467" cy="263.21" r="2.2" fill="#000"/>
<line x1="452.8" y1="263.21" x2="479.9" y2="263.21" stroke="#444" stroke-width="1.2"/>
<circle cx="471.5" cy="269.17" r="2.2" fill="#000"/>
<line x1="463" y1="269.17" x2="479.5" y2="269.17" stroke="#444" stroke-width="1.2"/>
<circle cx="440.4" cy="287.04" r="2.2" fill="#5f9bd5"/>
<line x1="419.2" y1="287.04" x2="461.5" y2="287.04" stroke="#8ab8e2" stroke-width="1.2"/>
<circle cx="465.1" cy="293" r="2.2" fill="#5f9bd5"/>
<line x1="454.5" y1="293" x2="475.3" y2="293" stroke="#8ab8e2" stroke-width="1.2"/>
<circle cx="481" cy="298.96" r="2.2" fill="#000"/>
<line x1="470.2" y1="298.96" x2="490.5" y2="298.96" stroke="#444" stroke-width="1.2"/>
<circle cx="476.8" cy="304.91" r="2.2" fill="#000"/>
<line x1="454.5" y1="304.91" x2="498.5" y2="304.91" stroke="#444" stroke-width="1.2"/>
<circle cx="481.2" cy="310.87" r="2.2" fill="#000"/>
<line x1="458.1" y1="310.87" x2="504.5" y2="310.87" stroke="#444" stroke-width="1.2"/>
<circle cx="474.4" cy="322.78" r="2.2" fill="#000"/>
<line x1="466.8" y1="322.78" x2="481.6" y2="322.78" stroke="#444" stroke-width="1.2"/>
<circle cx="464.1" cy="328.74" r="2.2" fill="#5f9bd5"/>
<line x1="453.5" y1="328.74" x2="474.6" y2="328.74" stroke="#8ab8e2" stroke-width="1.2"/>
<circle cx="476.1" cy="352.57" r="2.2" fill="#000"/>
<line x1="471" y1="352.57" x2="481" y2="352.57" stroke="#444" stroke-width="1.2"/>
<circle cx="472.5" cy="358.53" r="2.2" fill="#000"/>
<line x1="463" y1="358.53" x2="482" y2="358.53" stroke="#444" stroke-width="1.2"/>
<circle cx="471" cy="364.48" r="2.2" fill="#000"/>
<line x1="464" y1="364.48" x2="478.4" y2="364.48" stroke="#444" stroke-width="1.2"/>
<circle cx="472.9" cy="382.35" r="2.2" fill="#000"/>
<line x1="466.4" y1="382.35" x2="478.4" y2="382.35" stroke="#444" stroke-width="1.2"/>
<circle cx="473.2" cy="388.31" r="2.2" fill="#5f9bd5"/>
<line x1="469.4" y1="388.31" x2="475.3" y2="388.31" stroke="#8ab8e2" stroke-width="1.2"/>
<line x1="478.6" y1="247.4" x2="478.6" y2="392.3" stroke="#2a2a2a" stroke-width="1.2" stroke-dasharray="3.4 1.89" stroke-dashoffset="2.14"/>
<text x="0" y="0" font-size="10.8" fill="#111" stroke="#111" stroke-width="0.2" transform="translate(404,242) scale(0.93,1)">H</text>
<text x="454.2" y="243.7" font-size="6.5" fill="#e0a050" stroke="#e0a050" stroke-width="0.15" textLength="14.8" lengthAdjust="spacingAndGlyphs">D+R+</text>
<text x="407" y="410.8" font-size="6.6" fill="#111" stroke="#111" stroke-width="0.15" textLength="111.5" lengthAdjust="spacingAndGlyphs">Mean change in epitopes (95% CI) in D+R+</text>
<rect x="0" y="0" width="1" height="419" fill="#3c3c3c"/><rect x="1" y="1" width="0.8" height="417" fill="#888"/>
<rect x="0" y="0" width="520" height="1" fill="#3c3c3c"/><rect x="1" y="1" width="517" height="0.6" fill="#888"/>
<rect x="518" y="0" width="2" height="419" fill="#3c3c3c"/><rect x="517.3" y="1" width="0.7" height="417" fill="#888"/>
<rect x="0" y="418" width="520" height="1" fill="#3c3c3c"/><rect x="1" y="417.3" width="517" height="0.7" fill="#888"/>
</svg>
</body></html>
